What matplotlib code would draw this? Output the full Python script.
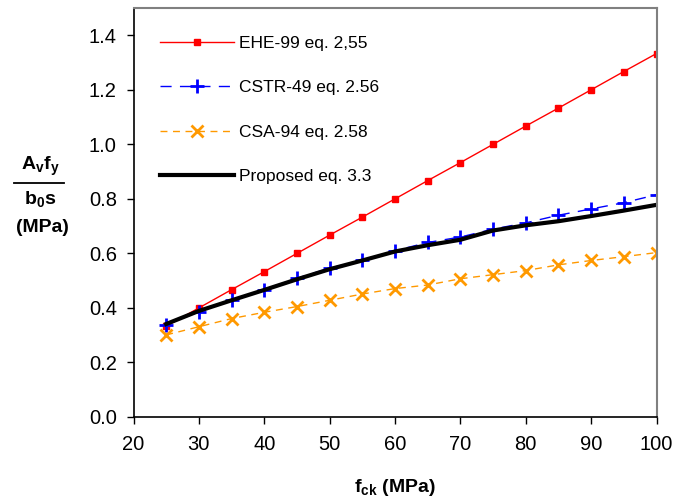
import matplotlib
matplotlib.use("Agg")
import matplotlib.pyplot as plt
from matplotlib.lines import Line2D

plt.rcParams['font.family'] = ['Liberation Sans', 'DejaVu Sans']
plt.rcParams['mathtext.fontset'] = 'custom'
plt.rcParams['mathtext.rm'] = 'Liberation Sans'
plt.rcParams['mathtext.bf'] = 'Liberation Sans:bold'
plt.rcParams['mathtext.it'] = 'Liberation Sans:italic'

fck = [25, 30, 35, 40, 45, 50, 55, 60, 65, 70, 75, 80, 85, 90, 95, 100]
ehe = [0.333, 0.400, 0.467, 0.533, 0.600, 0.667, 0.733, 0.800, 0.867, 0.933,
       1.000, 1.067, 1.133, 1.200, 1.267, 1.333]
cstr = [0.338, 0.386, 0.429, 0.466, 0.509, 0.546, 0.574, 0.610, 0.640, 0.660,
        0.689, 0.712, 0.740, 0.763, 0.786, 0.815]
csa = [0.301, 0.331, 0.361, 0.384, 0.405, 0.428, 0.451, 0.471, 0.484, 0.507,
       0.522, 0.537, 0.558, 0.574, 0.588, 0.603]
proposed = [0.341, 0.389, 0.428, 0.466, 0.505, 0.542, 0.574, 0.607, 0.630, 0.650,
            0.684, 0.703, 0.718, 0.737, 0.757, 0.778]

labels = ["EHE-99 eq. 2,55", "CSTR-49 eq. 2.56", "CSA-94 eq. 2.58", "Proposed eq. 3.3"]

W, H = 674, 501
fig = plt.figure(figsize=(W / 100, H / 100), dpi=100)
ax = fig.add_axes([133.5 / W, 1 - 417 / H, (656.5 - 133.5) / W, (417 - 8) / H])

ax.plot(fck, ehe, color='#ff0000', lw=1, marker='s', ms=5, label=labels[0])
ax.plot(fck, cstr, color='#0000ff', lw=1, dashes=(8, 6), marker='+', ms=10, mew=2, label=labels[1])
ax.plot(fck, csa, color='#ff9900', lw=1, dashes=(5, 4), marker='x', ms=8, mew=2, label=labels[2])
ax.plot(fck, proposed, color='black', lw=3, label=labels[3])

ax.set_xlim(20, 100)
ax.set_ylim(0, 1.5)
ax.set_xticks(range(20, 101, 10))
yt = [0.0, 0.2, 0.4, 0.6, 0.8, 1.0, 1.2, 1.4]
ax.set_yticks(yt)
ax.set_yticklabels([f"{v:.1f}" for v in yt])
ax.tick_params(axis='both', labelsize=14.5, direction='out', length=5, width=1, color='black')
ax.tick_params(axis='x', pad=8)
ax.tick_params(axis='y', pad=7)
for s in ['left', 'bottom']:
    ax.spines[s].set_color('black')
    ax.spines[s].set_linewidth(1.2)
for s in ['top', 'right']:
    ax.spines[s].set_color('#808080')
    ax.spines[s].set_linewidth(1.5)

leg = ax.legend(loc='upper left', bbox_to_anchor=(0.02, 0.97), frameon=False,
                fontsize=12.5, handlelength=4.3, handletextpad=0.25, labelspacing=1.68)

fig.text(395 / W, 1 - 487 / H, r'$\mathbf{f_{ck}}$' + ' (MPa)', ha='center', va='center',
         fontsize=14, fontweight='bold')

cx = 40 / W
fig.text(cx, 1 - 166 / H, r'$\mathbf{A_{v}f_{y}}$', ha='center', va='center', fontsize=14)
fig.add_artist(Line2D([14 / W, 64 / W], [1 - 182.7 / H, 1 - 182.7 / H], color='black', lw=1.3))
fig.text(cx, 1 - 199 / H, r'$\mathbf{b_{0}s}$', ha='center', va='center', fontsize=14)
fig.text(42 / W, 1 - 227 / H, '(MPa)', ha='center', va='center', fontsize=14, fontweight='bold')

fig.savefig('out.png', dpi=100)
